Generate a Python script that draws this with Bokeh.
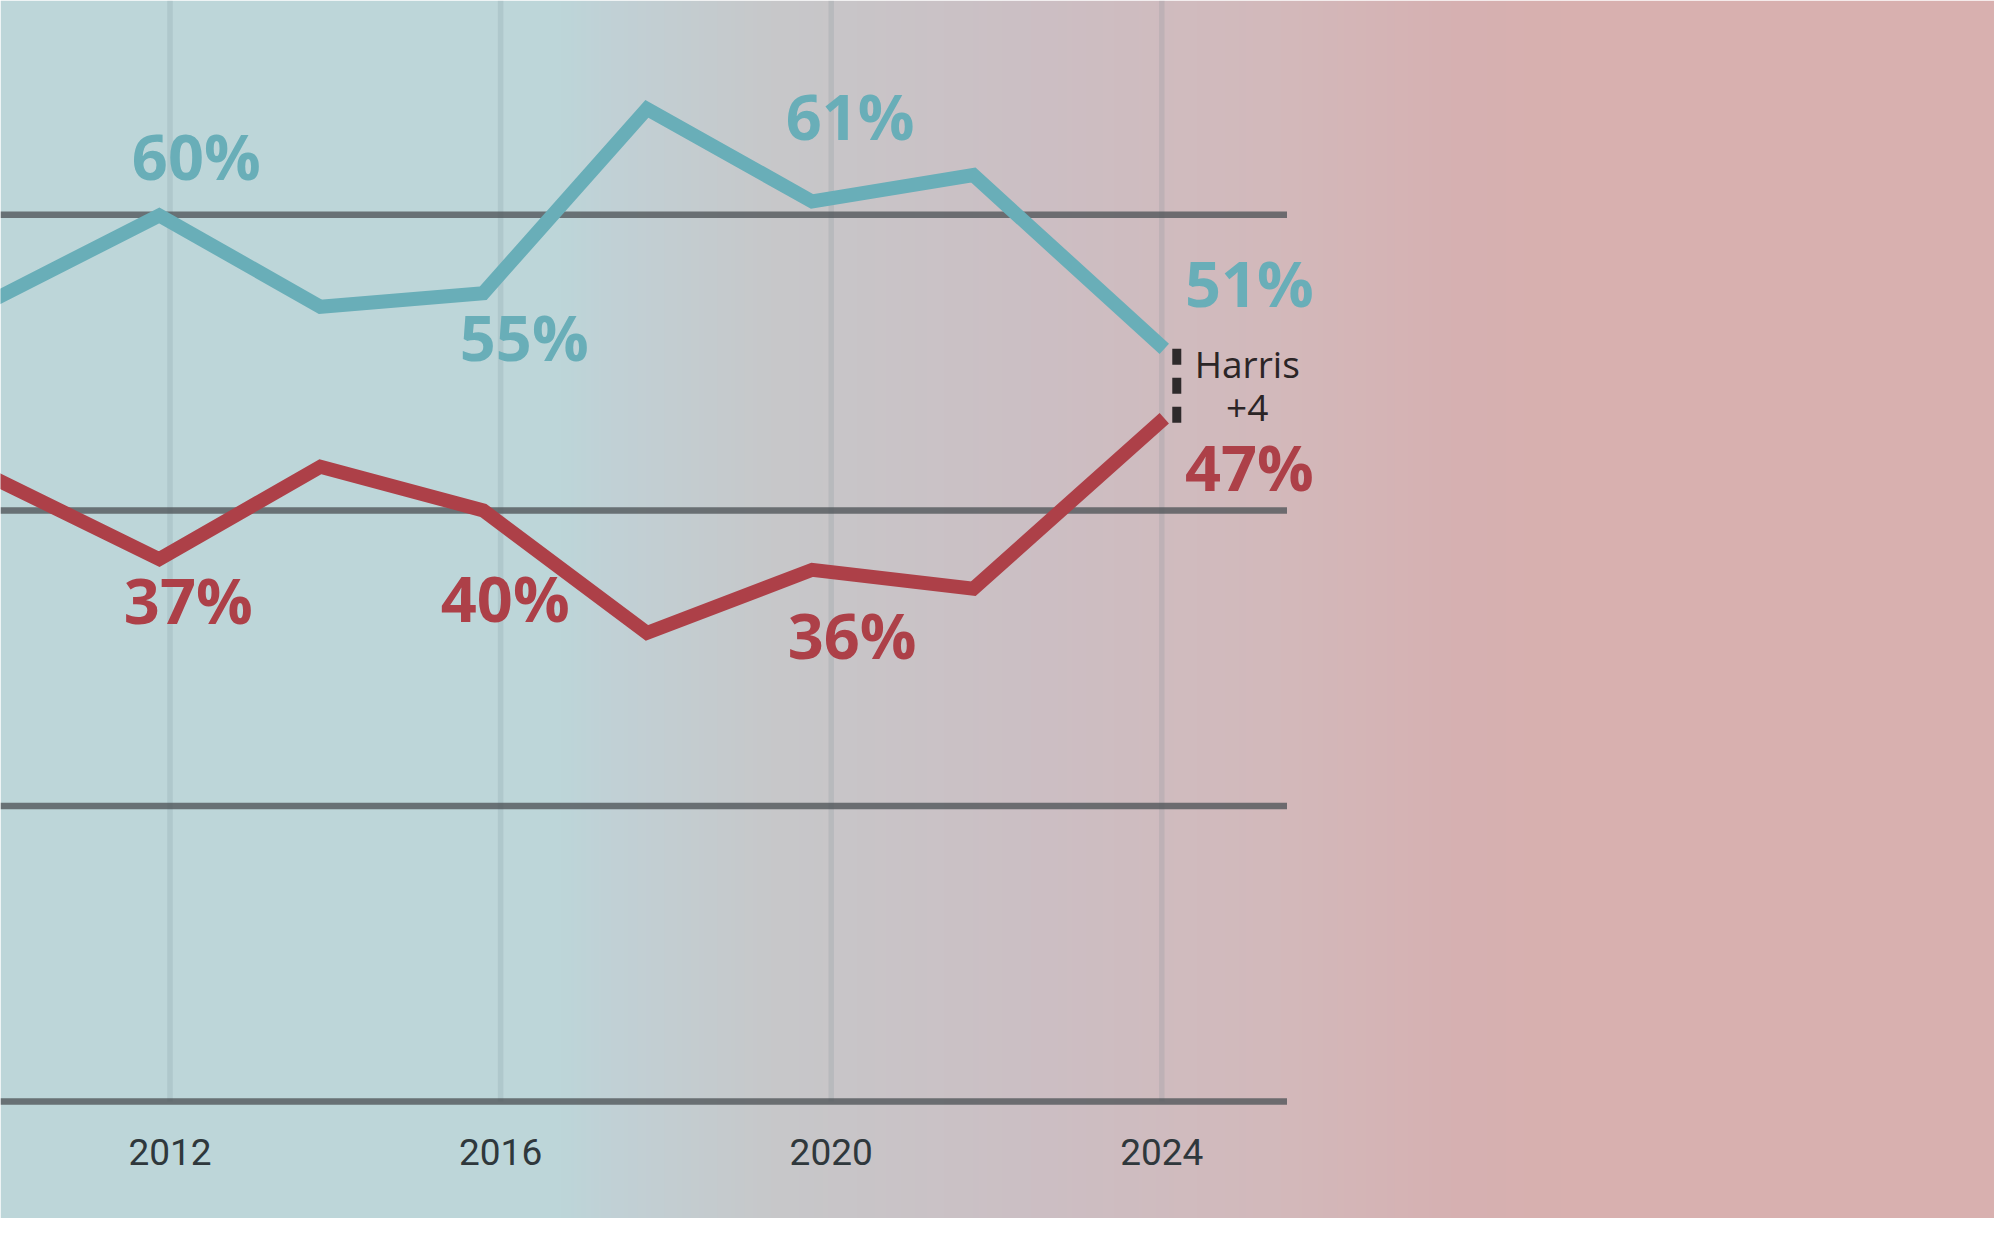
import numpy as np
from bokeh.plotting import figure
from bokeh.models import Range1d, FixedTicker
from bokeh.core.properties import value
from bokeh.embed import file_html
from bokeh.resources import INLINE

# ---------------- data ----------------
years = [2009.9, 2011.87, 2013.82, 2015.79, 2017.77, 2019.77, 2021.72, 2024.03]
dem_share = [54.35, 59.96, 53.78, 54.70, 67.17, 60.90, 62.69, 50.93]
rep_share = [42.1, 36.70, 42.96, 40.0, 31.71, 35.98, 34.70, 46.24]

dem_label_idx = [1, 3, 5, 7]
dem_label_text = ["60%", "55%", "61%", "51%"]
rep_label_idx = [1, 3, 5, 7]
rep_label_text = ["37%", "40%", "36%", "47%"]

tick_years = [2012, 2016, 2020, 2024]
grid_levels = [0, 20, 40, 60]
margin_note = ["Harris", "+4"]

# ---------------- styles ----------------
W, H = 1994, 1218
PX_PER_YEAR = 82.65
PX_PER_PCT = 14.78
BLUE = "#69aeb8"
RED = "#ad4048"

x_start = 2018 + (0 - 665.4) / PX_PER_YEAR
y_top = 1101.1 / PX_PER_PCT
x_range = Range1d(x_start, x_start + W / PX_PER_YEAR)
y_range = Range1d(y_top - H / PX_PER_PCT, y_top)

dem_offsets = [(37, -60), (41, 43), (38, -86), (85, -66)]
rep_offsets = [(29, 40), (22, 87), (40, 65), (85, 48)]
note_offsets = [(83, -20), (83, 24)]

p = figure(width=W, height=H, x_range=x_range, y_range=y_range,
           output_backend="svg", toolbar_location=None, min_border=0,
           y_axis_location=None, outline_line_color=None)
p.xgrid.visible = False
p.ygrid.visible = False

# background gradient (left blue -> right pink)
stops_x = [0, 560, 610, 770, 1030, 1280, 1450, 1560, 2010]
stops_rgb = [(189, 214, 217), (189, 214, 217), (193, 209, 214), (199, 200, 202),
             (204, 191, 196), (211, 185, 187), (214, 177, 178), (216, 176, 175),
             (216, 176, 175)]
cols = np.arange(W)
img = np.empty((2, W), dtype=np.uint32)
view = img.view(dtype=np.uint8).reshape((2, W, 4))
for ch in range(3):
    view[:, :, ch] = np.interp(cols, stops_x, [c[ch] for c in stops_rgb]).astype(np.uint8)
view[:, :, 3] = 255
p.image_rgba(image=[img], x=x_range.start, y=y_range.start,
             dw=x_range.end - x_range.start, dh=y_range.end - y_range.start)

# vertical faint grid lines
p.segment(x0=tick_years, y0=[0] * len(tick_years), x1=tick_years, y1=[y_top] * len(tick_years),
          line_color="#5f7a82", line_alpha=0.14, line_width=5.5)

# horizontal grid lines
grid_end = 2018 + (1286.5 - 665.4) / PX_PER_YEAR
p.segment(x0=[x_range.start] * len(grid_levels), y0=grid_levels,
          x1=[grid_end] * len(grid_levels), y1=grid_levels,
          line_color="#4f5558", line_alpha=0.78, line_width=6.5, line_cap="butt")

# series lines
p.line(years, dem_share, line_color=BLUE, line_width=14, line_join="miter", line_cap="butt")
p.line(years, rep_share, line_color=RED, line_width=14, line_join="miter", line_cap="butt")

# value labels
p.text(x=[years[i] for i in dem_label_idx], y=[dem_share[i] for i in dem_label_idx],
       text=dem_label_text, x_offset=[o[0] for o in dem_offsets], y_offset=[o[1] for o in dem_offsets],
       text_align="center", text_baseline="middle", text_font=value("Open Sans"),
       text_font_style="bold", text_font_size="63px", text_color=BLUE)
p.text(x=[years[i] for i in rep_label_idx], y=[rep_share[i] for i in rep_label_idx],
       text=rep_label_text, x_offset=[o[0] for o in rep_offsets], y_offset=[o[1] for o in rep_offsets],
       text_align="center", text_baseline="middle", text_font=value("Open Sans"),
       text_font_style="bold", text_font_size="63px", text_color=RED)

# margin bracket and note
bar_x = years[-1] + 12.5 / PX_PER_YEAR
p.segment(x0=[bar_x], y0=[dem_share[-1]], x1=[bar_x], y1=[rep_share[-1] - 0.35],
          line_color="#2e2a2b", line_width=9, line_dash="16 13", line_cap="butt")
mid = (dem_share[-1] + rep_share[-1]) / 2
p.text(x=[years[-1]] * len(margin_note), y=[mid] * len(margin_note), text=margin_note,
       x_offset=[o[0] for o in note_offsets], y_offset=[o[1] for o in note_offsets],
       text_align="center", text_baseline="middle",
       text_font=value("Open Sans"), text_font_size="37px", text_color="#2b2526")

# x axis drawn at y = 0 inside the frame
ax = p.xaxis[0]
ax.fixed_location = 0
ax.ticker = FixedTicker(ticks=tick_years)
ax.axis_line_color = None
ax.major_tick_line_color = None
ax.minor_tick_line_color = None
ax.major_tick_out = 0
ax.major_tick_in = 0
ax.major_label_standoff = 37
ax.major_label_text_font = "Roboto"
ax.major_label_text_font_size = "37px"
ax.major_label_text_color = "#2f383c"

open("out.html", "w").write(file_html(p, INLINE))
